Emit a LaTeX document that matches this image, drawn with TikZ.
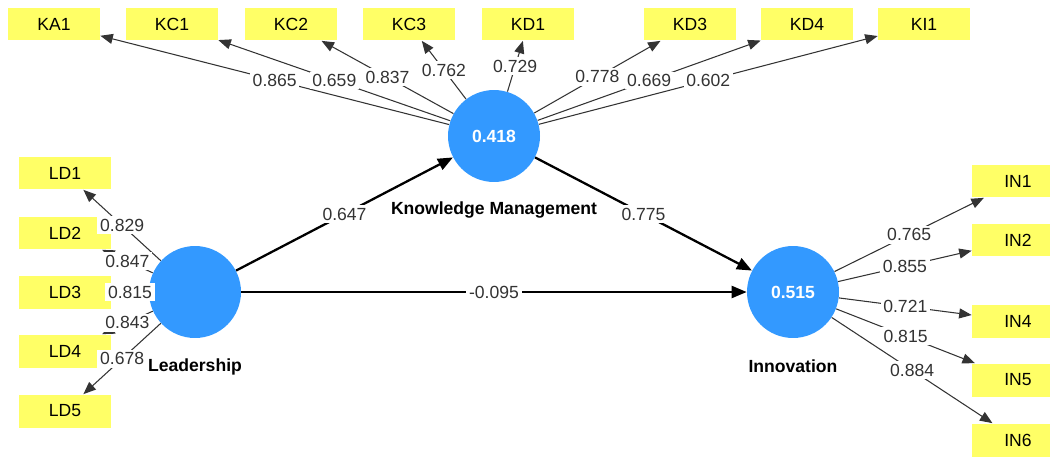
\documentclass[tikz,border=0pt]{standalone}
\usepackage{fontspec}
\setmainfont{Liberation Sans}
\usetikzlibrary{arrows.meta}
\definecolor{lvblue}{HTML}{3399FF}
\definecolor{indy}{HTML}{FFFF66}
\definecolor{ln}{HTML}{333333}

\begin{document}
\begin{tikzpicture}[x=0.02cm,y=-0.02cm,
	ind/.style={fill=indy, minimum width=1.84cm, minimum height=0.66cm, inner sep=0pt, font=\fontsize{10}{12}\selectfont},
	lv/.style={circle, fill=lvblue, minimum size=1.84cm, inner sep=0pt, text=white, font=\bfseries\fontsize{10}{12}\selectfont},
	lvname/.style={font=\bfseries\fontsize{10}{12}\selectfont},
	val/.style={fill=white, inner sep=1.5pt, text=ln, font=\fontsize{10}{12}\selectfont},
	load/.style={ln, line width=0.6pt, -{Triangle[length=2.5mm,width=2mm]}},
	path/.style={black, line width=1.3pt, -{Triangle[length=3mm,width=2.4mm]}}]
	\useasboundingbox (0,0) rectangle (1050,456);
	% latent variables
	\node[lv] (ld) at (195,292) {};
	\node[lv] (km) at (494,136) {0.418};
	\node[lv] (inn) at (793,292) {0.515};
	\node[lvname] (ldname) at (195,367) {Leadership};
	\node[lvname] (kmname) at (494,210) {Knowledge Management};
	\node[lvname] (inname) at (793,366) {Innovation};
	% indicators
	\foreach \n/\x in {KA1/54, KC1/172, KC2/291, KC3/409, KD1/528, KD3/690, KD4/807, KI1/924}
		\node[ind] (\n) at (\x,24) {\n};
	\foreach \n/\y in {LD1/173, LD2/233, LD3/292, LD4/351, LD5/411}
		\node[ind] (\n) at (65,\y) {\n};
	\foreach \n/\y in {IN1/181, IN2/240, IN4/321, IN5/380, IN6/440}
		\node[ind] (\n) at (1018,\y) {\n};
	% outer loadings
	\foreach \n/\v in {KA1/0.865, KC1/0.659, KC2/0.837, KC3/0.762, KD1/0.729, KD3/0.778, KD4/0.669, KI1/0.602}
		\draw[load] (km) -- node[val] {\v} (\n);
	\foreach \n/\v in {LD1/0.829, LD2/0.847, LD3/0.815, LD4/0.843, LD5/0.678}
		\draw[load] (ld) -- node[val] {\v} (\n);
	\foreach \n/\v in {IN1/0.765, IN2/0.855, IN4/0.721, IN5/0.815, IN6/0.884}
		\draw[load] (inn) -- node[val] {\v} (\n);
	% paths
	\draw[path] (ld) -- node[val] {0.647} (km);
	\draw[path] (km) -- node[val] {0.775} (inn);
	\draw[path] (ld) -- node[val] {-0.095} (inn);
\end{tikzpicture}
\end{document}
